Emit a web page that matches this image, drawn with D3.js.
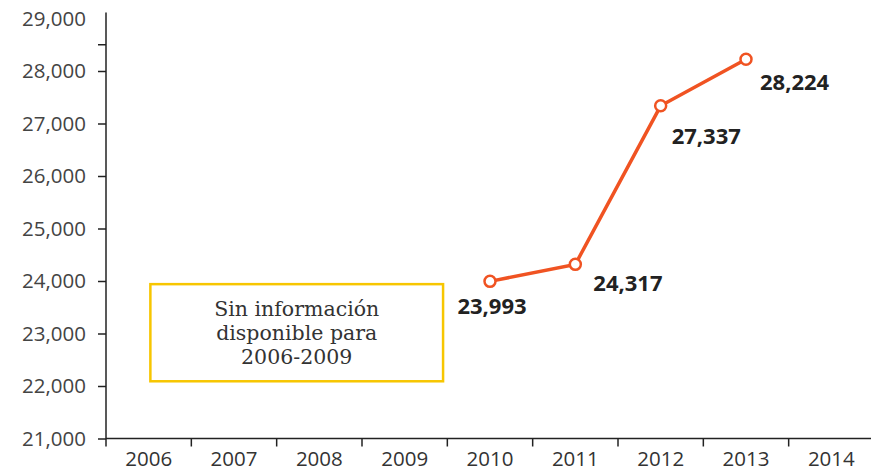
<!DOCTYPE html>
<html>
<head>
<meta charset="utf-8">
<script src="https://cdn.jsdelivr.net/npm/d3@7"></script>
<style>
  body { margin: 0; background: #fff; }
  svg { display: block; }
  .tick text { font-family: "Open Sans", sans-serif; fill: #444; }
</style>
</head>
<body>
<svg id="chart"></svg>
<script>
// years on the axis, and values only for years with data
var years = ['2006', '2007', '2008', '2009', '2010', '2011', '2012', '2013', '2014']
var dataYears = ['2010', '2011', '2012', '2013']
var values = [23993, 24317, 27337, 28224]
var yTicks = [21000, 22000, 23000, 24000, 25000, 26000, 27000, 28000, 29000]
var noteLines = ['Sin información', 'disponible para', '2006-2009']

var width = 871, height = 470
var x0 = 106, yBase = 438.5, yTop = 18.5

var svg = d3.select('#chart')
    .attr('width', width)
    .attr('height', height)

var x = d3.scaleBand().domain(years).range([x0, 874]).padding(0)
var y = d3.scaleLinear().domain([21000, 29000]).range([yBase, yTop])

// Y axis
var yAxis = d3.axisLeft(y)
    .tickValues(yTicks)
    .tickFormat(d3.format(','))
    .tickSize(8)
    .tickSizeOuter(0)
    .tickPadding(12)
var gY = svg.append('g')
    .attr('transform', 'translate(' + x0 + ',0)')
    .call(yAxis)
gY.select('.domain').remove()
gY.selectAll('.tick line').attr('stroke', '#222').attr('stroke-width', 1.5)
    .filter(function (d) { return d === 29000 }).remove()
gY.selectAll('.tick text').style('font-size', '20.5px')
// the odd short tick just under the top label
gY.append('line')
    .attr('x1', -8).attr('x2', 0)
    .attr('y1', y(28500)).attr('y2', y(28500))
    .attr('stroke', '#222').attr('stroke-width', 1.5)
gY.append('line')
    .attr('x1', 0).attr('x2', 0)
    .attr('y1', y(29000) - 6).attr('y2', yBase + 8)
    .attr('stroke', '#222').attr('stroke-width', 1.5)

// X axis with separators between years
var gX = svg.append('g')
gX.append('line')
    .attr('x1', x0).attr('x2', width)
    .attr('y1', yBase).attr('y2', yBase)
    .attr('stroke', '#222').attr('stroke-width', 1.5)
gX.selectAll('.sep')
    .data(years.slice(1))
    .enter().append('line')
    .attr('class', 'sep')
    .attr('x1', function (d) { return x(d) }).attr('x2', function (d) { return x(d) })
    .attr('y1', yBase).attr('y2', yBase + 8)
    .attr('stroke', '#222').attr('stroke-width', 1.5)
gX.selectAll('.yr')
    .data(years)
    .enter().append('text')
    .attr('class', 'yr')
    .attr('x', function (d) { return x(d) + x.bandwidth() / 2 })
    .attr('y', 466)
    .attr('text-anchor', 'middle')
    .style('font-family', '"Open Sans", sans-serif')
    .style('font-size', '20.5px')
    .style('fill', '#333')
    .text(function (d) { return d })

// note box for missing years
var boxL = x('2006') + x.bandwidth() * 0.52
var boxR = x('2009') + x.bandwidth() * 0.95
var boxT = y(23940), boxB = y(22090)
svg.append('rect')
    .attr('x', boxL).attr('y', boxT)
    .attr('width', boxR - boxL).attr('height', boxB - boxT)
    .attr('fill', 'none')
    .attr('stroke', '#f7c600')
    .attr('stroke-width', 2.5)
svg.append('text')
    .attr('text-anchor', 'middle')
    .style('font-family', '"DejaVu Serif", serif')
    .style('font-size', '20.5px')
    .style('fill', '#333')
    .selectAll('tspan')
    .data(noteLines)
    .enter().append('tspan')
    .attr('x', (boxL + boxR) / 2)
    .attr('y', function (d, i) { return boxT + 31.5 + i * 24 })
    .text(function (d) { return d })

// line
var pts = dataYears.map(function (d, i) { return {x: d, y: values[i]} })
var valueLine = d3.line()
    .x(function (d) { return x(d.x) + x.bandwidth() / 2 })
    .y(function (d) { return y(d.y) })
svg.append('path')
    .datum(pts)
    .attr('fill', 'none')
    .attr('stroke', '#f05322')
    .attr('stroke-width', 3.5)
    .attr('d', valueLine)
svg.selectAll('.dot')
    .data(pts)
    .enter().append('circle')
    .attr('class', 'dot')
    .attr('cx', function (d) { return x(d.x) + x.bandwidth() / 2 })
    .attr('cy', function (d) { return y(d.y) })
    .attr('r', 5.5)
    .attr('fill', '#fff')
    .attr('stroke', '#f05322')
    .attr('stroke-width', 2.5)

// value labels (first one sits below, the others below-right)
var offs = [[2, 33, 'middle'], [18, 27, 'start'], [11, 38, 'start'], [14, 31, 'start']]
svg.selectAll('.lbl')
    .data(pts)
    .enter().append('text')
    .attr('class', 'lbl')
    .attr('x', function (d, i) { return x(d.x) + x.bandwidth() / 2 + offs[i][0] })
    .attr('y', function (d, i) { return y(d.y) + offs[i][1] })
    .attr('text-anchor', function (d, i) { return offs[i][2] })
    .style('font-family', '"Open Sans", sans-serif')
    .style('font-weight', 'bold')
    .style('font-size', '22px')
    .style('fill', '#222')
    .text(function (d) { return d3.format(',')(d.y) })
</script>
</body>
</html>
